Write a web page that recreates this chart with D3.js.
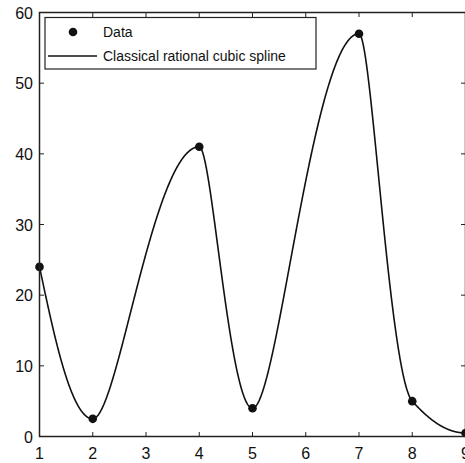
<!DOCTYPE html>
<html>
<head>
<meta charset="utf-8">
<script src="https://cdn.jsdelivr.net/npm/d3@7"></script>
<style>
  html, body { margin: 0; padding: 0; background: #fff; }
  svg { display: block; }
  text { font-family: "Liberation Sans", Arial, Helvetica, sans-serif; fill: #111; }
</style>
</head>
<body>
<svg id="chart" width="465" height="463"></svg>
<script>
// Data points
const xData = [1, 2, 4, 5, 7, 8, 9];
const yData = [24, 2.5, 41, 4, 57, 5, 0.5];

// Axis ticks
const xTicks = [1, 2, 3, 4, 5, 6, 7, 8, 9];
const yTicks = [0, 10, 20, 30, 40, 50, 60];

// Legend entries
const legendLabels = ["Data", "Classical rational cubic spline"];

// Shape parameters of the rational cubic (alpha = beta gives the cubic Hermite)
const alphaW = 1;
const betaW = 2.5;

const svg = d3.select("#chart");

const x = d3.scaleLinear().domain([1, 9]).range([39.5, 465.5]);
const y = d3.scaleLinear().domain([0, 60]).range([436.5, 12.5]);

// Knot derivatives: weighted harmonic mean, zero at local extrema,
// end slopes from a three-point formula
function derivatives(xs, ys) {
  const n = xs.length;
  const h = [], del = [];
  for (let i = 0; i < n - 1; i++) {
    h.push(xs[i + 1] - xs[i]);
    del.push((ys[i + 1] - ys[i]) / h[i]);
  }
  const d = new Array(n);
  for (let i = 1; i < n - 1; i++) {
    if (del[i - 1] * del[i] <= 0) d[i] = 0;
    else {
      const w1 = 2 * h[i] + h[i - 1], w2 = h[i] + 2 * h[i - 1];
      d[i] = (w1 + w2) / (w1 / del[i - 1] + w2 / del[i]);
    }
  }
  const end = (dA, dB, hA, hB) => {
    const v = ((2 * hA + hB) * dA - hA * dB) / (hA + hB);
    return v * dA <= 0 ? 0 : v;
  };
  d[0] = end(del[0], del[1], h[0], h[1]);
  d[n - 1] = end(del[n - 2], del[n - 3], h[n - 2], h[n - 3]);
  return { h, d };
}

// Rational cubic with linear denominator on each interval
function rationalCubic(xs, ys, a, b, samples) {
  const { h, d } = derivatives(xs, ys);
  const pts = [];
  for (let i = 0; i < xs.length - 1; i++) {
    const f0 = ys[i], f1 = ys[i + 1], hi = h[i];
    const V = (2 * a + b) * f0 + a * hi * d[i];
    const Wc = (a + 2 * b) * f1 - b * hi * d[i + 1];
    for (let k = 0; k <= samples; k++) {
      if (i > 0 && k === 0) continue;
      const t = k / samples, s = 1 - t;
      const num = a * f0 * s * s * s + V * t * s * s + Wc * t * t * s + b * f1 * t * t * t;
      const den = a * s + b * t;
      pts.push([xs[i] + t * hi, num / den]);
    }
  }
  return pts;
}

const curve = rationalCubic(xData, yData, alphaW, betaW, 200);

// Curve
svg.append("path")
  .datum(curve)
  .attr("fill", "none")
  .attr("stroke", "#111")
  .attr("stroke-width", 1.6)
  .attr("d", d3.line().x(p => x(p[0])).y(p => y(p[1])));

// Data markers
svg.append("g").selectAll("circle")
  .data(xData.map((v, i) => [v, yData[i]]))
  .join("circle")
  .attr("cx", p => x(p[0]))
  .attr("cy", p => y(p[1]))
  .attr("r", 4.3)
  .attr("fill", "#111");

// Axes box with inward ticks on all four sides
const x0 = x(1), x1 = x(9), y0 = y(0), y1 = y(60);
const tickLen = 4.5;
const frame = svg.append("g").attr("stroke", "#222").attr("stroke-width", 1.5);
frame.append("rect")
  .attr("x", x0).attr("y", y1)
  .attr("width", x1 - x0).attr("height", y0 - y1)
  .attr("fill", "none");
xTicks.forEach(v => {
  frame.append("line").attr("x1", x(v)).attr("x2", x(v)).attr("y1", y0).attr("y2", y0 - tickLen).attr("stroke-width", 1);
  frame.append("line").attr("x1", x(v)).attr("x2", x(v)).attr("y1", y1).attr("y2", y1 + tickLen).attr("stroke-width", 1);
});
yTicks.forEach(v => {
  frame.append("line").attr("x1", x0).attr("x2", x0 + tickLen).attr("y1", y(v)).attr("y2", y(v)).attr("stroke-width", 1);
  frame.append("line").attr("x1", x1).attr("x2", x1 - tickLen).attr("y1", y(v)).attr("y2", y(v)).attr("stroke-width", 1);
});

// Tick labels
svg.append("g").selectAll("text")
  .data(xTicks)
  .join("text")
  .attr("x", v => x(v))
  .attr("y", 459)
  .attr("text-anchor", "middle")
  .attr("font-size", 16)
  .text(v => v);

svg.append("g").selectAll("text")
  .data(yTicks)
  .join("text")
  .attr("x", 33)
  .attr("y", v => y(v) + 6)
  .attr("text-anchor", "end")
  .attr("font-size", 16)
  .text(v => v);

// Legend
const lg = svg.append("g");
lg.append("rect")
  .attr("x", 45).attr("y", 17.5)
  .attr("width", 271).attr("height", 51.5)
  .attr("fill", "#fff").attr("stroke", "#222").attr("stroke-width", 1.2);
lg.append("circle").attr("cx", 73).attr("cy", 32).attr("r", 4.3).attr("fill", "#111");
lg.append("line").attr("x1", 48).attr("x2", 97).attr("y1", 56).attr("y2", 56)
  .attr("stroke", "#111").attr("stroke-width", 1.4);
lg.append("text").attr("x", 103).attr("y", 37).attr("font-size", 14).text(legendLabels[0]);
lg.append("text").attr("x", 103).attr("y", 61).attr("font-size", 14).text(legendLabels[1]);
</script>
</body>
</html>
